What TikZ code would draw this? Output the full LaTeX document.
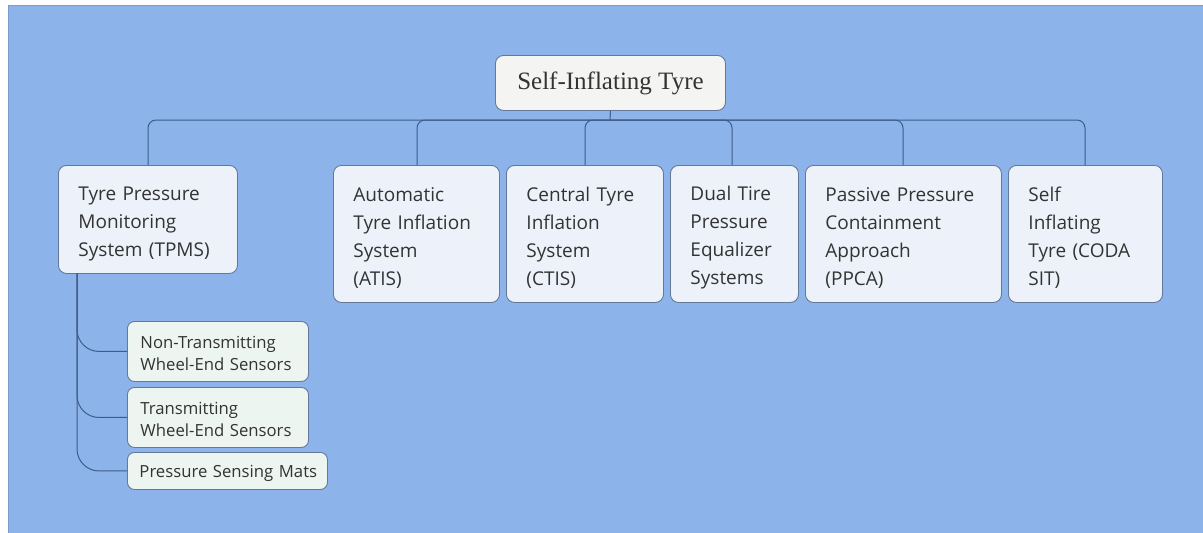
\documentclass[tikz,border=0pt]{standalone}
\usepackage{fontspec}
\newfontfamily\boxfont{Open Sans}
\newfontfamily\rootfont{Liberation Serif}
\definecolor{bg}{HTML}{8CB4EA}
\definecolor{bgedge}{HTML}{7C9DCB}
\definecolor{boxline}{HTML}{65789A}
\definecolor{boxfill}{HTML}{EDF2FA}
\definecolor{rootfill}{HTML}{F4F4F2}
\definecolor{subfill}{HTML}{EDF5F1}
\definecolor{linec}{HTML}{3F5C88}
\definecolor{textc}{HTML}{333333}
\tikzset{
  mbox/.style={draw=boxline, fill=boxfill, rounded corners=8pt, line width=0.9pt,
    inner xsep=20pt, inner ysep=0pt, align=left, anchor=north west, text=textc,
    font=\boxfont\fontsize{19}{28}\selectfont,
    execute at begin node={\rule{0pt}{22pt}}},
  sbox/.style={draw=boxline, fill=subfill, rounded corners=7pt, line width=0.9pt,
    inner xsep=13pt, inner ysep=0pt, align=left, anchor=north west, text=textc,
    font=\boxfont\fontsize{16.7}{22}\selectfont,
    execute at begin node={\rule{0pt}{17pt}}},
  rbox/.style={draw=boxline, fill=rootfill, rounded corners=8pt, line width=0.9pt,
    inner sep=0pt, anchor=north west, text=textc,
    font=\rootfont\fontsize{25}{30}\selectfont},
  conn/.style={draw=linec, line width=1pt},
}
\begin{document}
\begin{tikzpicture}[x=1pt,y=-1pt]
\useasboundingbox (0,0) rectangle (1203,533);
\fill[white] (0,0) rectangle (1203,533);
\filldraw[fill=bg, draw=bgedge, line width=0.8pt] (8,5) rectangle (1204,534);

% root
\node[rbox, minimum width=230pt, minimum height=55pt] (root) at (495,55) {Self-Inflating Tyre};

% main children
\node[mbox, minimum width=179pt, minimum height=108pt, text width=139pt] (tpms) at (58,165)
  {Tyre Pressure\\Monitoring\\System (TPMS)};
\node[mbox, minimum width=166pt, minimum height=137pt, text width=126pt] (atis) at (333,165)
  {Automatic\\Tyre Inflation\\System\\(ATIS)};
\node[mbox, minimum width=157pt, minimum height=137pt, text width=117pt] (ctis) at (506,165)
  {Central Tyre\\Inflation\\System\\(CTIS)};
\node[mbox, minimum width=128pt, minimum height=137pt, text width=88pt] (dual) at (670,165)
  {Dual Tire\\Pressure\\Equalizer\\Systems};
\node[mbox, minimum width=196pt, minimum height=137pt, text width=156pt] (ppca) at (805,165)
  {Passive Pressure\\Containment\\Approach\\(PPCA)};
\node[mbox, minimum width=154pt, minimum height=137pt, text width=114pt] (coda) at (1008,165)
  {Self\\Inflating\\Tyre (CODA\\SIT)};

% sub children
\node[sbox, minimum width=181pt, minimum height=60pt, text width=155pt] (nt) at (127,321)
  {Non-Transmitting\\Wheel-End Sensors};
\node[sbox, minimum width=181pt, minimum height=60pt, text width=155pt] (tr) at (127,387)
  {Transmitting\\Wheel-End Sensors};
\node[sbox, inner xsep=12pt, minimum width=200pt, minimum height=37pt, text width=176pt] (mats) at (127,452)
  {\mbox{Pressure Sensing Mats}};

% connectors from root
\coordinate (bus) at (610,120);
\draw[conn] (root.south) -- (bus);
\foreach \c/\x in {tpms/148, atis/417, ctis/585, dual/732, ppca/903, coda/1085}{
  \draw[conn, rounded corners=8pt] (bus) -| (\c.north -| \x,0);
}

% connectors from TPMS
\coordinate (trunk) at (77,273);
\foreach \s in {nt, tr, mats}{
  \draw[conn, rounded corners=22pt] (trunk) |- (\s.west);
}
\end{tikzpicture}
\end{document}
